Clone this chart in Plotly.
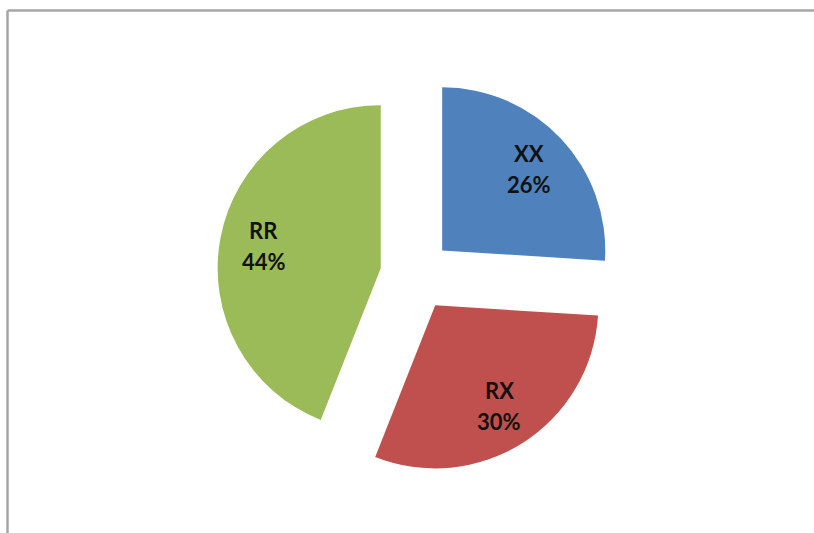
import math
import plotly.graph_objects as go

# Genotype shares
labels = ["XX", "RX", "RR"]
values = [26, 30, 44]
colors = ["#4F81BD", "#C0504D", "#9BBB59"]
pulls = [0.22, 0.22, 0.22]

W, H = 814, 533
cx, cy = 416, 258          # pie centre in px (from bottom-left)
half = 199                 # half-size of the pie domain in px
r = half / (1 + max(pulls))
label_frac = 0.73          # radial position of the data labels
line_gap = 15.5            # half the distance between the two label lines

fig = go.Figure(
    go.Pie(
        labels=labels,
        values=values,
        marker=dict(colors=colors, line=dict(width=0)),
        pull=pulls,
        sort=False,
        direction="clockwise",
        rotation=0,
        textinfo="none",
        hoverinfo="label+percent",
        showlegend=False,
        domain=dict(x=[(cx - half) / W, (cx + half) / W],
                    y=[(cy - half) / H, (cy + half) / H]),
    )
)

# Data labels: name and share, placed along each slice's mid-angle
total = sum(values)
start = 0.0
font = dict(family="Lato, Open Sans, sans-serif", size=22, color="#111111")
for lab, val, p in zip(labels, values, pulls):
    mid = (start + val / 2) / total * 2 * math.pi
    start += val
    dx, dy = math.sin(mid), math.cos(mid)
    px = cx + (p + label_frac) * r * dx
    py = cy + (p + label_frac) * r * dy
    pct = f"{round(100 * val / total)}%"
    for txt, off in ((lab, line_gap), (pct, -line_gap)):
        fig.add_annotation(x=px / W, y=(py + off) / H, xref="paper", yref="paper",
                           text=f"<b>{txt}</b>", showarrow=False, font=font,
                           xanchor="center", yanchor="middle")

# Outer chart frame (top and left edges visible)
frame = dict(type="line", xref="paper", yref="paper",
             line=dict(color="#a6a6a6", width=2.5))
fig.add_shape(**frame, x0=7.5 / W, x1=1.02, y0=1 - 10.5 / H, y1=1 - 10.5 / H)
fig.add_shape(**frame, x0=7.5 / W, x1=7.5 / W, y0=-0.02, y1=1 - 10.5 / H)

fig.update_layout(
    width=W, height=H,
    margin=dict(l=0, r=0, t=0, b=0),
    paper_bgcolor="white",
    plot_bgcolor="white",
)

fig.write_html("out.html")
